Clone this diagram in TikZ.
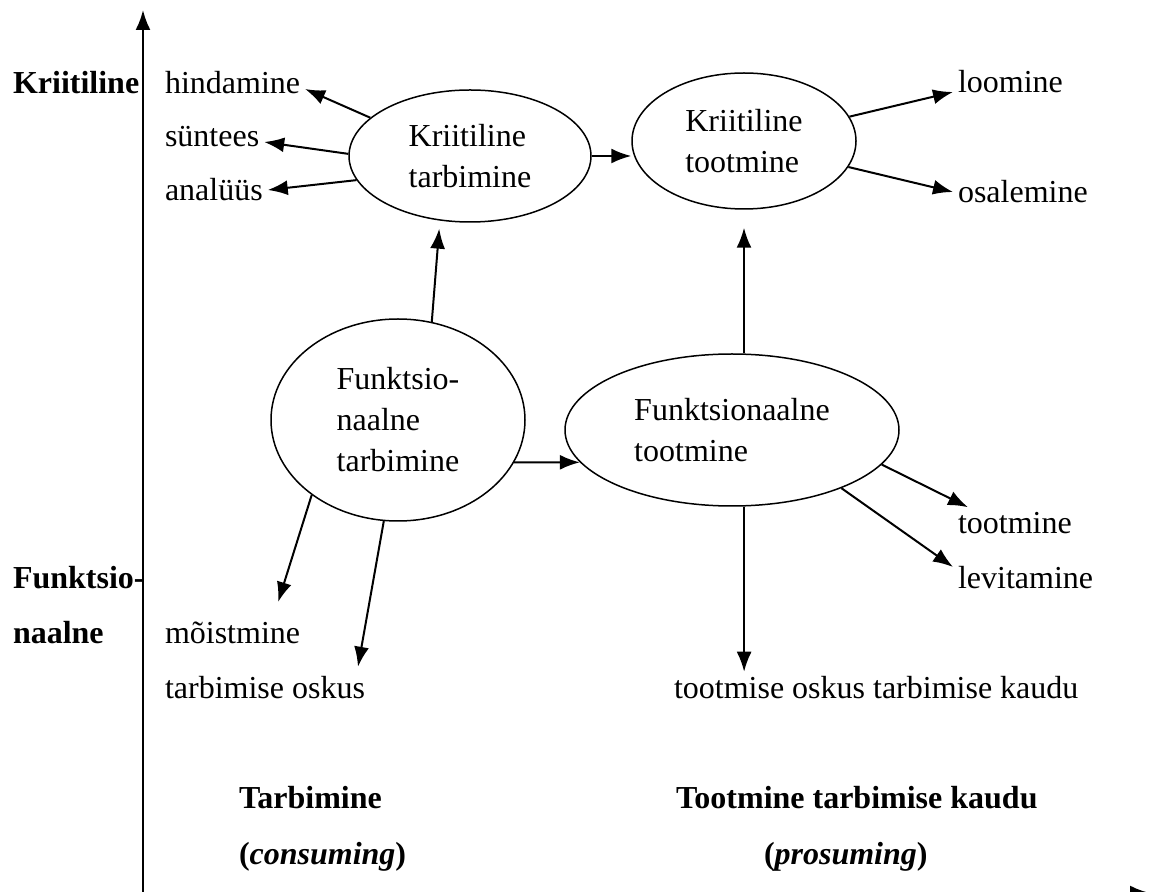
\documentclass[tikz,border=0pt]{standalone}
\usepackage{fontspec}
\setmainfont{Liberation Serif}
\usetikzlibrary{arrows.meta,shapes.geometric}

\begin{document}
\begin{tikzpicture}[x=0.5pt, y=-0.5pt, line width=1pt, ->, >={Latex[length=10pt,width=7.5pt]},
  font=\fontsize{16}{20.5}\selectfont,
  blob/.style={draw, ellipse, align=left, inner sep=0pt, line width=0.75pt},
  lbl/.style={anchor=west, inner sep=2pt},
  hd/.style={anchor=west, inner sep=0pt, font=\fontsize{16}{20.5}\selectfont\bfseries}]
  \useasboundingbox (0,0) rectangle (1151,892);
  \clip (0,0) rectangle (1151,892);

  \coordinate (o) at (143,893);
  \coordinate (ytop) at (143,10);
  \coordinate (xend) at (1150,893);
  \draw [line width=1.1pt] (o) -- (ytop);
  \draw [line width=1.1pt] (o) -- (xend);

  \node [hd] (krit) at (12,83) {Kriitiline};
  \node [hd] (funk) at (12,578) {Funktsio-};
  \node [hd] (naal) at (12,633) {naalne};

  \node [blob, minimum width=121pt, minimum height=66pt] (krtarb) at (470,156) {Kriitiline\\tarbimine};
  \node [blob, minimum width=112pt, minimum height=68pt] (krtoot) at (744,141) {Kriitiline\\tootmine};
  \node [blob, minimum width=127pt, minimum height=101pt] (futarb) at (398,420) {Funktsio-\\naalne\\tarbimine};
  \node [blob, minimum width=167pt, minimum height=76pt] (futoot) at (732,430) {Funktsionaalne\\tootmine};

  \node [lbl] (hind) at (160,83) {hindamine};
  \node [lbl] (synt) at (160,137) {süntees};
  \node [lbl] (anal) at (160,190) {analüüs};
  \node [lbl] (moist) at (160,633) {mõistmine};
  \node [lbl] (tosk) at (160,688) {tarbimise oskus};
  \node [lbl] (loom) at (953,82) {loomine};
  \node [lbl] (osal) at (953,192) {osalemine};
  \node [lbl] (toot) at (953,523) {tootmine};
  \node [lbl] (levit) at (953,578) {levitamine};
  \node [lbl] (okaudu) at (669,688) {tootmise oskus tarbimise kaudu};

  \node [hd] (tarb) at (238,798) {Tarbimine};
  \node [hd] (cons) at (238,857) {(\textit{consuming})};
  \node [hd] (ptarb) at (675,798) {Tootmine tarbimise kaudu};
  \node [hd] (pros) at (763,857) {(\textit{prosuming})};

  \path (krtarb.159) edge ([yshift=-3pt]hind.east);
  \path (krtarb.179) edge ([yshift=-2.5pt]synt.east);
  \path (krtarb.192) edge (anal.east);
  \path (krtarb.east) edge (krtarb.east -| krtoot.west);
  \path (krtoot.13) edge ([yshift=-5pt]loom.west);
  \path (krtoot.346) edge (osal.west);
  \path (futarb.71) edge [shorten >=4pt] (krtarb.245);
  \path (krtoot.south |- futoot.north) edge [shorten >=9pt] (krtoot.south);
  \path (futarb.340) edge (futoot.192);
  \path (futarb.221) edge ([xshift=-13.5pt,yshift=7.5pt]moist.north east);
  \path (futarb.262) edge ([xshift=-6pt,yshift=2.5pt]tosk.north east);
  \path (futoot.347) edge ([xshift=7.5pt]toot.north west);
  \path (futoot.332) edge ([yshift=5.5pt]levit.west);
  \path (futoot.279) edge (futoot.279 |- okaudu.north);
\end{tikzpicture}
\end{document}
